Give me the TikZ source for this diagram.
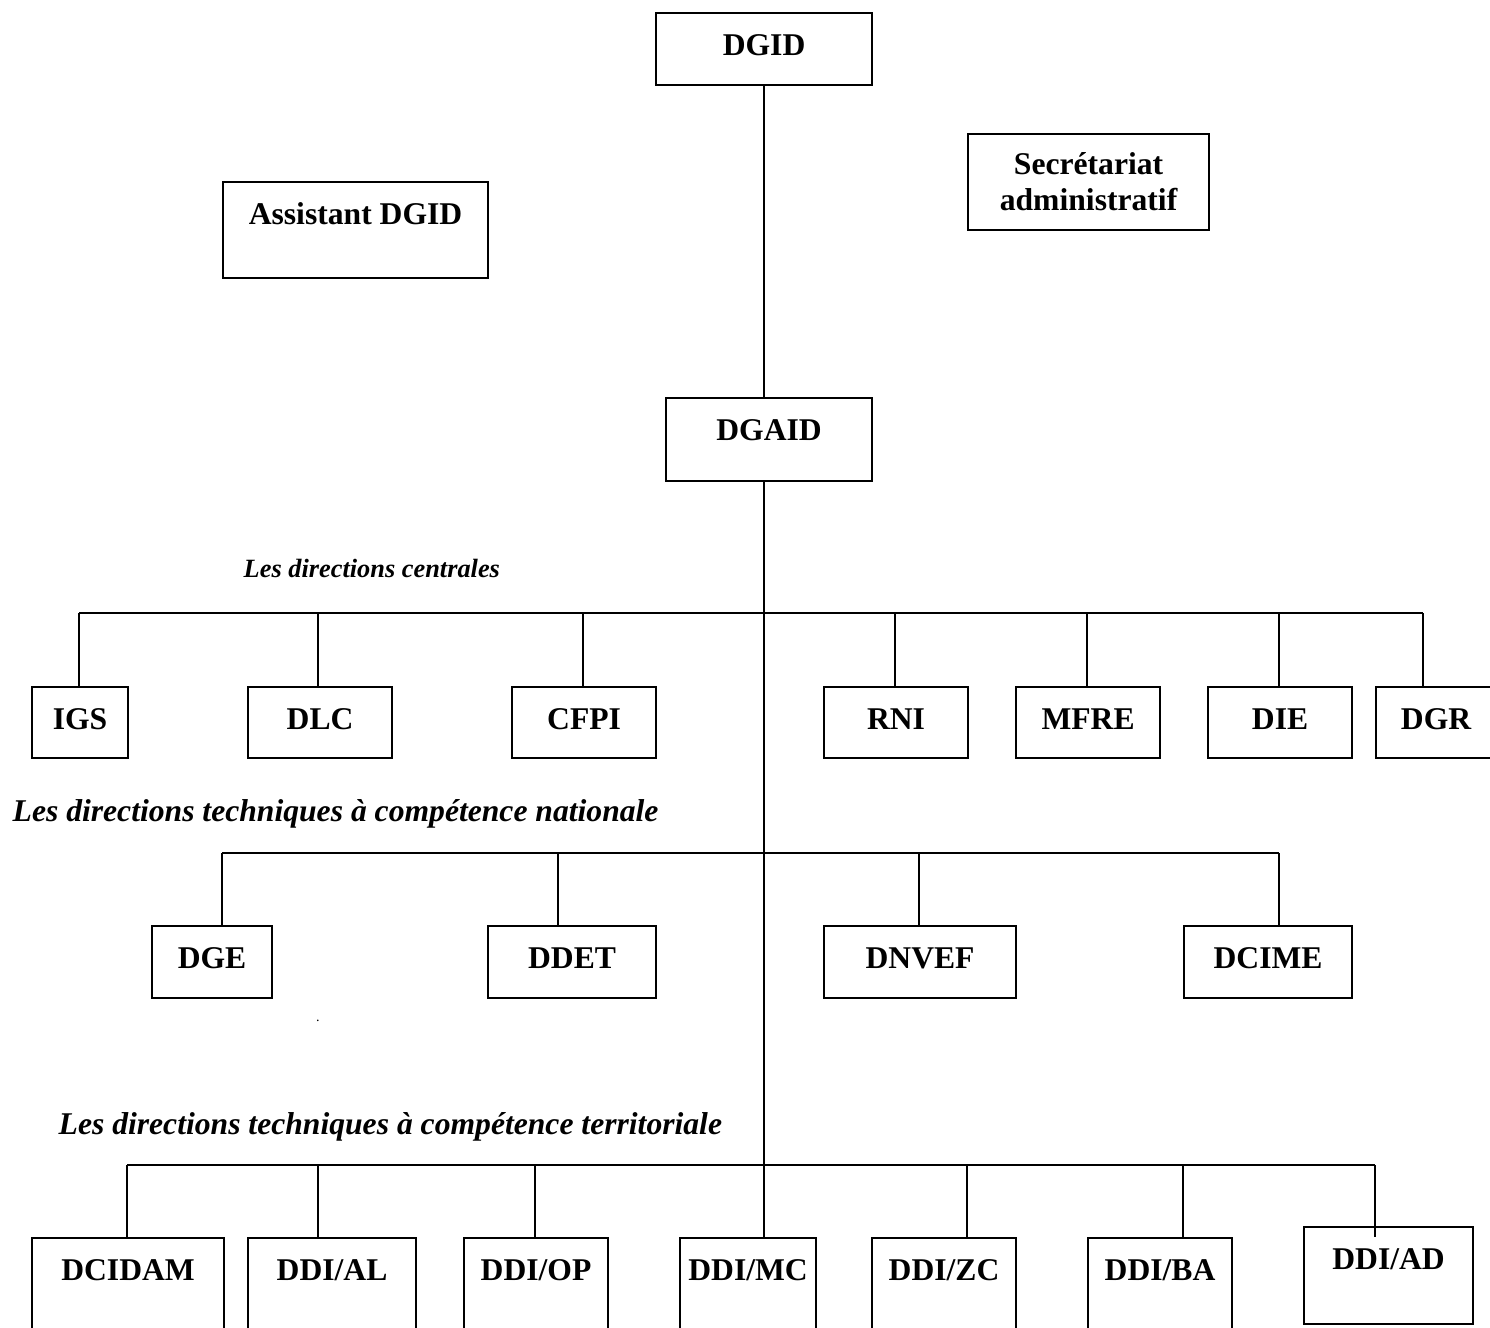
\documentclass[tikz,border=0pt]{standalone}
\usepackage{fontspec}
\setmainfont{Liberation Serif}
\usetikzlibrary{calc}

\tikzset{
  unit/.style={draw, line width=0.6pt, inner sep=0pt, anchor=north west,
    font=\fontsize{9}{10.2}\selectfont\bfseries},
  toptext/.style={text height=0.42cm, text depth=#1},
  head/.style={inner sep=0pt, anchor=base west,
    font=\fontsize{9}{11}\selectfont\bfseries\itshape},
  link/.style={line width=0.6pt}
}

\begin{document}
\begin{tikzpicture}
    \useasboundingbox(0,0)rectangle(14.9,-13.27);
    \clip(0,0)rectangle(14.9,-13.27);
    % direction generale
    \node[unit, toptext=0.30cm, minimum width=2.16cm](dgid)at(6.55,-0.12){DGID};
    \node[unit, toptext=0.54cm, minimum width=2.65cm](assist)at(2.22,-1.81){Assistant DGID};
    \node[unit, align=center, minimum width=2.41cm, minimum height=0.96cm](secret)at(9.67,-1.33){Secrétariat\\administratif};
    \node[unit, toptext=0.41cm, minimum width=2.06cm](dgaid)at(6.65,-3.97){DGAID};
    % spine
    \coordinate(S)at(dgid.south);
    \path[draw, link](S)to(S |- dgaid.north);
    % directions centrales
    \node[head, font=\fontsize{7.5}{9}\selectfont\bfseries\itshape](centr)at(2.43,-5.77){Les directions centrales};
    \node[unit, toptext=0.29cm, minimum width=0.96cm](igs)at(0.31,-6.86){IGS};
    \node[unit, toptext=0.29cm, minimum width=1.44cm](dlc)at(2.47,-6.86){DLC};
    \node[unit, toptext=0.29cm, minimum width=1.44cm](cfpi)at(5.11,-6.86){CFPI};
    \node[unit, toptext=0.29cm, minimum width=1.44cm](rni)at(8.23,-6.86){RNI};
    \node[unit, toptext=0.29cm, minimum width=1.44cm](mfre)at(10.15,-6.86){MFRE};
    \node[unit, toptext=0.29cm, minimum width=1.44cm](die)at(12.07,-6.86){DIE};
    \node[unit, toptext=0.29cm, minimum width=1.20cm](dgr)at(13.75,-6.86){DGR};
    \coordinate(A1)at(0.79,-6.13);
    \coordinate(A2)at(3.18,-6.13);
    \coordinate(A3)at(5.83,-6.13);
    \coordinate(A4)at(8.95,-6.13);
    \coordinate(A5)at(10.87,-6.13);
    \coordinate(A6)at(12.79,-6.13);
    \coordinate(A7)at(14.23,-6.13);
    \path[draw, link](A1)to(A7);
    \path[draw, link](A1)to(A1 |- igs.north);
    \path[draw, link](A2)to(A2 |- dlc.north);
    \path[draw, link](A3)to(A3 |- cfpi.north);
    \path[draw, link](A4)to(A4 |- rni.north);
    \path[draw, link](A5)to(A5 |- mfre.north);
    \path[draw, link](A6)to(A6 |- die.north);
    \path[draw, link](A7)to(A7 |- dgr.north);
    % competence nationale
    \node[head](natio)at(0.12,-8.21){Les directions techniques à compétence nationale};
    \node[unit, toptext=0.295cm, minimum width=1.20cm](dge)at(1.51,-9.25){DGE};
    \node[unit, toptext=0.295cm, minimum width=1.68cm](ddet)at(4.87,-9.25){DDET};
    \node[unit, toptext=0.295cm, minimum width=1.92cm](dnvef)at(8.23,-9.25){DNVEF};
    \node[unit, toptext=0.295cm, minimum width=1.68cm](dcime)at(11.83,-9.25){DCIME};
    \coordinate(B1)at(2.22,-8.53);
    \coordinate(B2)at(5.58,-8.53);
    \coordinate(B3)at(9.19,-8.53);
    \coordinate(B4)at(12.79,-8.53);
    \path[draw, link](B1)to(B4);
    \path[draw, link](B1)to(B1 |- dge.north);
    \path[draw, link](B2)to(B2 |- ddet.north);
    \path[draw, link](B3)to(B3 |- dnvef.north);
    \path[draw, link](B4)to(B4 |- dcime.north);
    \node[inner sep=0pt, font=\fontsize{4}{4}\selectfont](pt)at(3.18,-10.21){.};
    % competence territoriale
    \node[head](terri)at(0.58,-11.34){Les directions techniques à compétence territoriale};
    \node[unit, toptext=0.72cm, minimum width=1.92cm](dcidam)at(0.31,-12.37){DCIDAM};
    \node[unit, toptext=0.72cm, minimum width=1.68cm](ddial)at(2.47,-12.37){DDI/AL};
    \node[unit, toptext=0.72cm, minimum width=1.44cm](ddiop)at(4.63,-12.37){DDI/OP};
    \node[unit, toptext=0.72cm, minimum width=1.36cm](ddimc)at(6.79,-12.37){DDI/MC};
    \node[unit, toptext=0.72cm, minimum width=1.44cm](ddizc)at(8.71,-12.37){DDI/ZC};
    \node[unit, toptext=0.72cm, minimum width=1.44cm](ddiba)at(10.87,-12.37){DDI/BA};
    \node[unit, toptext=0.545cm, minimum width=1.69cm](ddiad)at(13.03,-12.26){DDI/AD};
    \coordinate(C1)at(1.27,-11.65);
    \coordinate(C2)at(3.18,-11.65);
    \coordinate(C3)at(5.35,-11.65);
    \coordinate(C5)at(9.67,-11.65);
    \coordinate(C6)at(11.83,-11.65);
    \coordinate(C7)at(13.75,-11.65);
    \path[draw, link](C1)to(C7);
    \path[draw, link](C1)to(C1 |- dcidam.north);
    \path[draw, link](C2)to(C2 |- ddial.north);
    \path[draw, link](C3)to(C3 |- ddiop.north);
    \path[draw, link](C5)to(C5 |- ddizc.north);
    \path[draw, link](C6)to(C6 |- ddiba.north);
    \path[draw, link](C7)to(C7 |- ddimc.north);
    % spine down
    \path[draw, link](S |- dgaid.south)to(S |- ddimc.north);
\end{tikzpicture}
\end{document}
